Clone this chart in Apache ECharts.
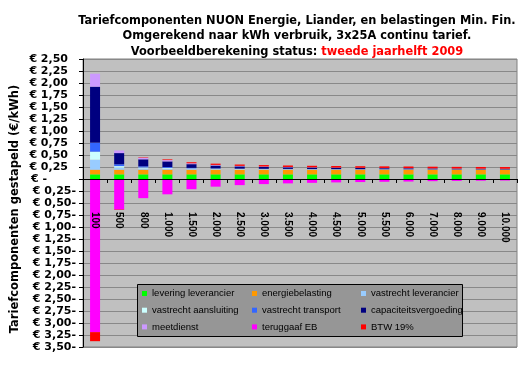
<!DOCTYPE html>
<html>
<head>
<meta charset="utf-8">
<script src="https://cdn.jsdelivr.net/npm/echarts@6/dist/echarts.min.js"></script>
<style>html,body{margin:0;padding:0;background:#fff}#c{width:531px;height:371px}</style>
</head>
<body>
<div id="c"></div>
<script>
// ---- data (€/kWh) ----
const categories = ['100','500','800','1.000','1.500','2.000','2.500','3.000','3.500','4.000','4.500','5.000','5.500','6.000','7.000','8.000','9.000','10.000'];
const leveringLeverancier = [0.097,0.097,0.097,0.097,0.097,0.097,0.097,0.097,0.097,0.097,0.097,0.097,0.097,0.097,0.097,0.097,0.097,0.097];
const energiebelasting    = [0.097,0.097,0.097,0.097,0.097,0.097,0.097,0.097,0.097,0.097,0.097,0.097,0.097,0.097,0.097,0.097,0.097,0.097];
const vastrechtLeverancier = [0.208,0.0416,0.026,0.0208,0.0139,0.0104,0.0083,0.0069,0.0059,0.0052,0.0046,0.0042,0.0038,0.0035,0.003,0.0026,0.0023,0.0021];
const vastrechtAansluiting = [0.167,0.0334,0.0209,0.0167,0.0111,0.0084,0.0067,0.0056,0.0048,0.0042,0.0037,0.0033,0.003,0.0028,0.0024,0.0021,0.0019,0.0017];
const vastrechtTransport   = [0.1875,0.0375,0.0234,0.0188,0.0125,0.0094,0.0075,0.0063,0.0054,0.0047,0.0042,0.0038,0.0034,0.0031,0.0027,0.0023,0.0021,0.0019];
const capaciteitsvergoeding = [1.167,0.2334,0.1459,0.1167,0.0778,0.0584,0.0467,0.0389,0.0333,0.0292,0.0259,0.0233,0.0212,0.0195,0.0167,0.0146,0.013,0.0117];
const meetdienst = [0.27,0.054,0.0338,0.027,0.018,0.0135,0.0108,0.009,0.0077,0.0068,0.006,0.0054,0.0049,0.0045,0.0039,0.0034,0.003,0.0027];
const teruggaafEB = [-3.19,-0.638,-0.399,-0.319,-0.2127,-0.1595,-0.1276,-0.1063,-0.0911,-0.0798,-0.0709,-0.0638,-0.058,-0.0532,-0.0456,-0.0399,-0.0354,-0.0319];
const btw = [-0.189,-0.0084,0.0086,0.0143,0.0218,0.0256,0.0278,0.0293,0.0304,0.0312,0.0318,0.0323,0.0328,0.0331,0.0336,0.034,0.0344,0.0346];

const seriesNames = ['levering leverancier','energiebelasting','vastrecht leverancier','vastrecht aansluiting','vastrecht transport','capaciteitsvergoeding','meetdienst','teruggaaf EB','BTW 19%'];
const seriesData = [leveringLeverancier, energiebelasting, vastrechtLeverancier, vastrechtAansluiting, vastrechtTransport, capaciteitsvergoeding, meetdienst, teruggaafEB, btw];
const seriesColors = ['#00FF00','#FF9900','#99CCFF','#CCFFFF','#3366FF','#000080','#CC99FF','#FF00FF','#FF0000'];

const titleLines = ['Tariefcomponenten NUON Energie, Liander, en belastingen Min. Fin.','Omgerekend naar kWh verbruik, 3x25A continu tarief.','Voorbeeldberekening status: '];
const titleRed = 'tweede jaarhelft 2009';
const yAxisTitle = 'Tariefcomponenten gestapeld (€/kWh)';

const legendCols = [
  ['levering leverancier','vastrecht aansluiting','meetdienst'],
  ['energiebelasting','vastrecht transport','teruggaaf EB'],
  ['vastrecht leverancier','capaciteitsvergoeding','BTW 19%']
];

const chart = echarts.init(document.getElementById('c'), null, {renderer:'canvas'});
const yFont = {fontFamily:'DejaVu Sans', fontWeight:'bold', fontSize:11, color:'#000'};
const legendX = [142, 252, 361];

const option = {
  animation: false,
  backgroundColor: '#fff',
  title: {
    text: titleLines[0] + '\n' + titleLines[1] + '\n' + titleLines[2] + '{r|' + titleRed + '}',
    left: 292, top: 8, textAlign: 'center',
    textStyle: {fontFamily:'DejaVu Sans', fontWeight:'bold', fontSize:11.4, lineHeight:15.5, color:'#000',
      rich: {r: {fontFamily:'DejaVu Sans', fontWeight:'bold', fontSize:11.4, lineHeight:15.5, color:'#FF0000'}}}
  },
  grid: {left:83, right:14, top:59, bottom:24, show:true, backgroundColor:'#C0C0C0', borderColor:'#808080', borderWidth:1, containLabel:false, outerBoundsMode:'none'},
  legend: legendCols.map((col, i) => ({
    data: col, orient:'vertical', left: legendX[i], top: 287.5, itemWidth:5, itemHeight:5, icon:'rect',
    itemGap: 4.7, padding: 0, z: 20,
    textStyle: {fontFamily:'Liberation Sans', fontSize:9.5, color:'#000', lineHeight:12}
  })),
  graphic: [{type:'rect', z: 15, shape:{x:137.5, y:284.5, width:325, height:52}, style:{fill:'#969696', stroke:'#000', lineWidth:1}}],
  xAxis: {
    type:'category', data: categories, position:'bottom', offset:-168, z: 5,
    axisLine: {show:true, onZero:false, lineStyle:{color:'#000', width:1}},
    axisTick: {show:true, length:4, lineStyle:{color:'#000'}},
    axisLabel: {show:true, rotate:-90, margin:33, interval:0, fontFamily:'Liberation Sans', fontWeight:'bold', fontSize:10, color:'#000'},
    splitLine: {show:false}
  },
  yAxis: {
    type:'value', min:-3.5, max:2.5, interval:0.25,
    name: yAxisTitle, nameLocation:'middle', nameRotate:90, nameGap:62, nameMoveOverlap:false,
    nameTextStyle: {fontFamily:'DejaVu Sans', fontWeight:'bold', fontSize:11.5, color:'#000', padding:[0,12,0,0]},
    axisLine: {show:true, lineStyle:{color:'#000', width:1}},
    axisTick: {show:true, length:4, lineStyle:{color:'#000'}},
    splitLine: {show:true, lineStyle:{color:'#888', width:1}},
    axisLabel: {
      margin: 7, ...yFont,
      formatter: function (v) {
        const r = Math.round(v*100)/100;
        if (r === 0) return '{z|€ -}';
        const s = Math.abs(r).toFixed(2).replace('.', ',');
        if (r > 0) return '{p|€ ' + s + '}';
        return '€ ' + s + '-';
      },
      rich: {p: {...yFont, padding:[0,8,0,0]}, z: {...yFont, padding:[0,29,0,0]}}
    }
  },
  series: seriesNames.map((name, i) => ({
    name, type:'bar', stack:'total', barWidth:10,
    itemStyle: {color: seriesColors[i]},
    data: seriesData[i]
  }))
};
chart.setOption(option);
</script>
</body>
</html>
